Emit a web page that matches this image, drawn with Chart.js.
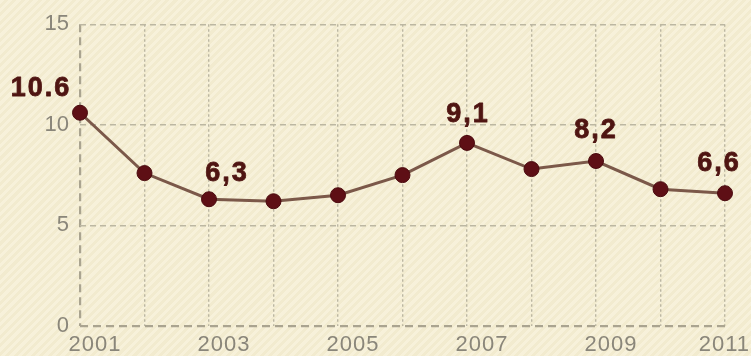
<!DOCTYPE html>
<html>
<head>
<meta charset="utf-8">
<script src="https://cdn.jsdelivr.net/npm/chart.js@4/dist/chart.umd.min.js"></script>
<style>
  html, body { margin: 0; padding: 0; }
  body {
    width: 751px; height: 356px; overflow: hidden;
    background-color: #f6efd5;
    background-image: repeating-linear-gradient(135deg, #f7f1da 0px, #f7f1da 3px, #f2ebcf 3px, #f2ebcf 6px);
  }
  #wrap { position: relative; width: 751px; height: 356px; }
</style>
</head>
<body>
<div id="wrap"><canvas id="c" width="751" height="356"></canvas></div>
<script>
// Yearly series
const years = ['2001','2002','2003','2004','2005','2006','2007','2008','2009','2010','2011'];
const values = [10.6, 7.6, 6.3, 6.2, 6.5, 7.5, 9.1, 7.8, 8.2, 6.8, 6.6];
// Decimal separator used by each value label (null = no label)
const labelDecimal = ['.', null, ',', null, null, null, ',', null, ',', null, ','];
// Axis
const yTicks = [0, 5, 10, 15];
const xTickEvery = 2;

const TICK_COLOR = '#8a867a';
const LABEL_COLOR = '#4f1512';
const GRID_COLOR = '#bcb7a2';
const AXIS_COLOR = '#aaa490';

// Value labels above selected points
const valueLabels = {
  id: 'valueLabels',
  afterDatasetsDraw(chart) {
    const ctx = chart.ctx;
    const meta = chart.getDatasetMeta(0);
    const shift = { 0: [-40, -24], 2: [17, -26], 6: [0, -28], 8: [-1, -30], 10: [-7, -30] };
    const spacing = 2;
    ctx.save();
    ctx.font = 'bold 27px "Liberation Sans", Arial, sans-serif';
    ctx.fillStyle = LABEL_COLOR;
    ctx.strokeStyle = LABEL_COLOR;
    ctx.lineWidth = 0.8;
    ctx.lineJoin = 'round';
    ctx.textAlign = 'left';
    ctx.textBaseline = 'middle';
    if ('letterSpacing' in ctx) ctx.letterSpacing = spacing + 'px';
    values.forEach((v, i) => {
      const sep = labelDecimal[i];
      if (!sep) return;
      const pt = meta.data[i];
      const [dx, dy] = shift[i] || [0, -28];
      const text = v.toFixed(1).replace('.', sep);
      const w = ctx.measureText(text).width - spacing;
      const x = pt.x + dx - w / 2, y = pt.y + dy;
      ctx.fillText(text, x, y);
      ctx.strokeText(text, x, y);
    });
    ctx.restore();
  }
};

// Year labels under the axis, set a little to the right of their grid line
const yearLabels = {
  id: 'yearLabels',
  afterDraw(chart) {
    const ctx = chart.ctx;
    const xs = chart.scales.x;
    ctx.save();
    ctx.font = '22px "Liberation Sans", Arial, sans-serif';
    ctx.fillStyle = TICK_COLOR;
    ctx.textBaseline = 'middle';
    ctx.textAlign = 'left';
    if ('letterSpacing' in ctx) ctx.letterSpacing = '1px';
    const y = chart.chartArea.bottom + 19;
    years.forEach((yr, i) => {
      if (i % xTickEvery !== 0) return;
      const w = ctx.measureText(yr).width;
      let cx = xs.getPixelForValue(i) + 15;
      if (cx + w / 2 > chart.width - 1) cx = chart.width - 1 - w / 2;
      ctx.fillText(yr, cx - w / 2, y);
    });
    ctx.restore();
  }
};

new Chart(document.getElementById('c'), {
  type: 'line',
  data: {
    labels: years,
    datasets: [{
      data: values,
      borderColor: '#7b5849',
      borderWidth: 3,
      tension: 0,
      pointRadius: 7.5,
      pointHoverRadius: 7.5,
      pointBackgroundColor: '#5e0f15',
      pointBorderColor: '#4a0a0e',
      pointBorderWidth: 1,
      clip: false
    }]
  },
  options: {
    responsive: false,
    animation: false,
    events: [],
    layout: { padding: { top: 23, right: 26, bottom: 0, left: 0 } },
    plugins: { legend: { display: false }, tooltip: { enabled: false } },
    scales: {
      x: {
        type: 'category',
        offset: false,
        ticks: { display: false },
        grid: {
          drawTicks: false,
          color: c => c.index === 0 ? AXIS_COLOR : GRID_COLOR,
          lineWidth: c => c.index === 0 ? 2.2 : 1.4
        },
        border: {
          display: false,
          dash: c => c.index === 0 ? [8, 5] : [2.5, 2.5]
        },
        afterFit: s => { s.height = 30; }
      },
      y: {
        min: 0,
        max: 15,
        afterBuildTicks: s => { s.ticks = yTicks.map(v => ({ value: v })); },
        ticks: {
          padding: 11,
          color: TICK_COLOR,
          font: { family: '"Liberation Sans", Arial, sans-serif', size: 22 }
        },
        grid: {
          drawTicks: false,
          color: c => c.index === 0 ? AXIS_COLOR : GRID_COLOR,
          lineWidth: c => c.index === 0 ? 2.2 : 1.4
        },
        border: {
          display: false,
          dash: c => c.index === 0 ? [8, 5] : [6, 4]
        },
        afterFit: s => { s.width = 80; }
      }
    }
  },
  plugins: [valueLabels, yearLabels]
});
</script>
</body>
</html>
